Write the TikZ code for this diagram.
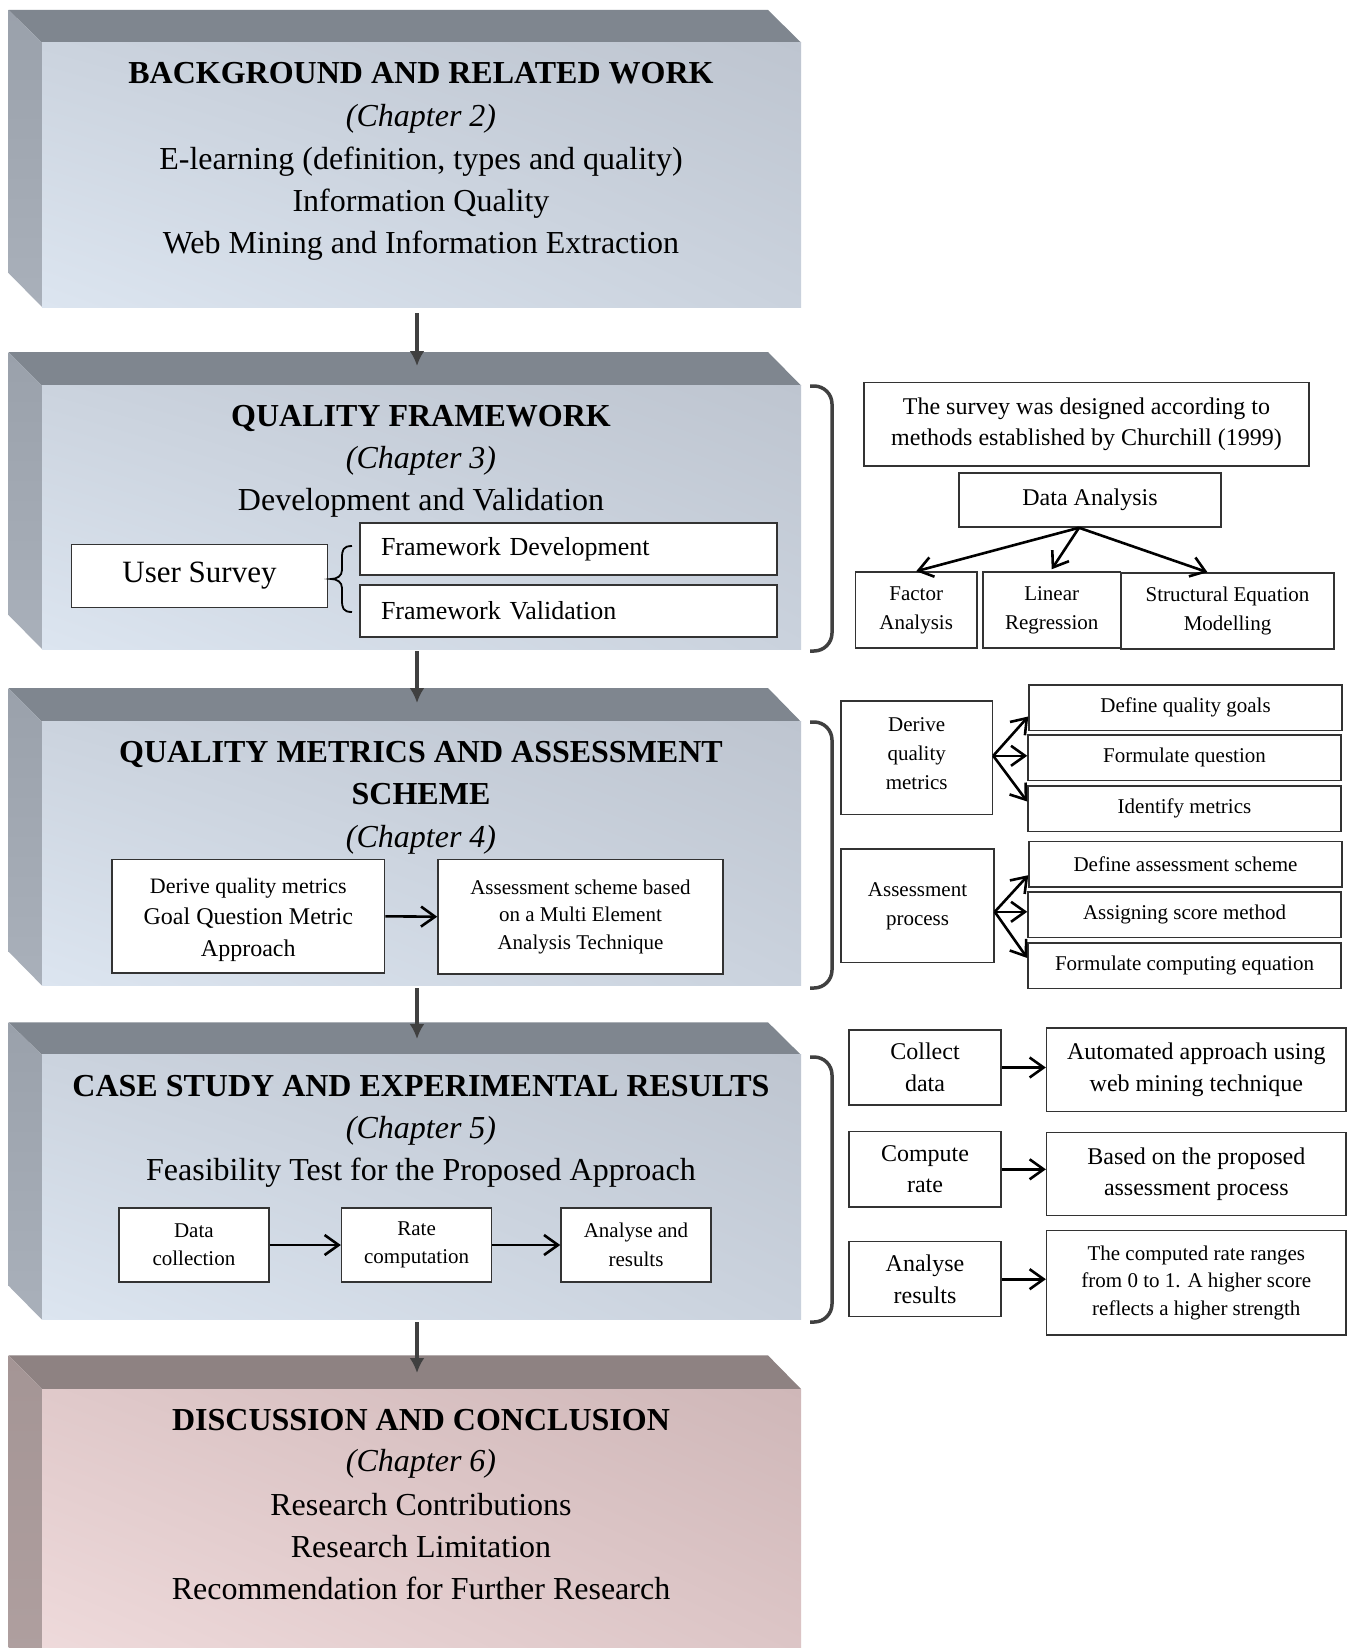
\documentclass[tikz,border=0pt]{standalone}
\usepackage{fontspec}
\setmainfont{Liberation Serif}
\usetikzlibrary{arrows.meta,calc,shadings}
\definecolor{btop}{HTML}{7F868F}
\definecolor{bsideA}{HTML}{9AA1AB}
\definecolor{bsideB}{HTML}{A9B0BA}
\definecolor{bfUL}{HTML}{CBD3DE}
\definecolor{bfUR}{HTML}{BEC5D0}
\definecolor{bfLL}{HTML}{DCE5F0}
\definecolor{bfLR}{HTML}{CAD2DD}
\definecolor{ptop}{HTML}{8E8282}
\definecolor{psideA}{HTML}{A49595}
\definecolor{psideB}{HTML}{B0A0A0}
\definecolor{pfUL}{HTML}{E0C9CA}
\definecolor{pfUR}{HTML}{CFB7B8}
\definecolor{pfLL}{HTML}{F0DCDD}
\definecolor{pfLR}{HTML}{DEC7C8}
\definecolor{arrgray}{HTML}{404040}
\newcommand\bevbox[4]{%
  \fill[#4top] (8.5,#1) -- (768,#1) -- (801,#2) -- (42,#2) -- cycle;
  \shade[top color=#4sideA, bottom color=#4sideB] (8.5,#1) -- (42,#2) -- (42,#3) -- (8.5,{#3-34}) -- cycle;
  \shade[upper left=#4fUL, upper right=#4fUR, lower left=#4fLL, lower right=#4fLR] (42,#2) rectangle (801,#3);
}
\begin{document}
\begin{tikzpicture}[x=1pt,y=-1pt,
  ttl/.style={font=\bfseries\fontsize{32}{38}\selectfont, anchor=base, inner sep=0pt},
  chp/.style={font=\itshape\fontsize{32}{38}\selectfont, anchor=base, inner sep=0pt},
  bdy/.style={font=\fontsize{32}{38}\selectfont, anchor=base, inner sep=0pt},
  box/.style={draw=black!80, line width=1.5pt, fill=white, inner sep=0pt, align=center},
  mainarrow/.style={draw=arrgray, line width=3.5pt, -{Latex[length=15pt,width=15pt]}},
  openarrow/.style={draw=black, line width=2.6pt, -{Straight Barb[length=14pt,width=20pt]}},
  bigbrace/.style={draw=arrgray, line width=3.5pt, rounded corners=18pt},
  f21/.style={font=\fontsize{21}{29}\selectfont},
  f24/.style={font=\fontsize{24}{31.6}\selectfont}]
\useasboundingbox (0,0) rectangle (1348,1648);
\clip (0,0) rectangle (1348,1648);
\fill[white] (0,0) rectangle (1348,1648);

% ---------- main boxes ----------
\bevbox{10}{42.5}{307}{b}
\bevbox{352}{385.5}{649}{b}
\bevbox{688}{721.8}{985.6}{b}
\bevbox{1022.3}{1054.9}{1319.7}{b}
\bevbox{1355.4}{1389}{1683}{p}

% box 1 text
\node[ttl] (t1a) at (421,83.5) {BACKGROUND AND RELATED WORK};
\node[chp] (t1b) at (421,127) {(Chapter 2)};
\node[bdy] (t1c) at (421,169.5) {E-learning (definition, types and quality)};
\node[bdy] (t1d) at (421,211.5) {Information Quality};
\node[bdy] (t1e) at (421,253.5) {Web Mining and Information Extraction};

% box 2 text
\node[ttl] (t2a) at (421,426) {QUALITY FRAMEWORK};
\node[chp] (t2b) at (421,468) {(Chapter 3)};
\node[bdy] (t2c) at (421,510) {Development and Validation};

% box 3 text
\node[ttl] (t3a) at (421,762) {QUALITY METRICS AND ASSESSMENT};
\node[ttl] (t3b) at (421,804) {SCHEME};
\node[chp] (t3c) at (421,847) {(Chapter 4)};

% box 4 text
\node[ttl] (t4a) at (421,1096) {CASE STUDY AND EXPERIMENTAL RESULTS};
\node[chp] (t4b) at (421,1138) {(Chapter 5)};
\node[bdy] (t4c) at (421,1180) {Feasibility Test for the Proposed Approach};

% box 5 text
\node[ttl] (t5a) at (421,1430) {DISCUSSION AND CONCLUSION};
\node[chp] (t5b) at (421,1471) {(Chapter 6)};
\node[bdy] (t5c) at (421,1515) {Research Contributions};
\node[bdy] (t5d) at (421,1557) {Research Limitation};
\node[bdy] (t5e) at (421,1599) {Recommendation for Further Research};

% main arrows
\coordinate (a1s) at (417,313);  \coordinate (a1e) at (417,366);
\coordinate (a2s) at (417,651);  \coordinate (a2e) at (417,703);
\coordinate (a3s) at (417,988);  \coordinate (a3e) at (417,1039);
\coordinate (a4s) at (417,1322); \coordinate (a4e) at (417,1373);
\draw[mainarrow] (a1s) -- (a1e);
\draw[mainarrow] (a2s) -- (a2e);
\draw[mainarrow] (a3s) -- (a3e);
\draw[mainarrow] (a4s) -- (a4e);

% ---------- inner boxes: quality framework ----------
\node[box, minimum width=256pt, minimum height=63pt, font=\fontsize{31}{36}\selectfont] (us) at (199.5,576) {User Survey};
\node[box, minimum height=52pt, text width=375pt, inner xsep=21pt, align=left, font=\fontsize{26}{30}\selectfont] (fd) at (568.5,549) {Framework Development};
\node[box, minimum height=52pt, text width=375pt, inner xsep=21pt, align=left, font=\fontsize{26}{30}\selectfont] (fv) at (568.5,611) {Framework Validation};
\draw[line width=1.8pt] (352,546) .. controls (343,546) and (342,550) .. (342,558) -- (342,570)
  .. controls (342,576) and (337,579) .. (331,579) .. controls (337,579) and (342,582) .. (342,588)
  -- (342,600) .. controls (342,608) and (343,612) .. (352,612);

% ---------- inner boxes: metrics ----------
\node[box, minimum width=272.6pt, minimum height=113.5pt, font=\fontsize{24}{31.5}\selectfont] (dq) at (248.3,916.3)
  {{\fontsize{22}{31.5}\selectfont\rule{0pt}{22pt}Derive quality metrics}\\Goal Question Metric\\Approach};
\node[box, minimum width=285pt, minimum height=114.5pt, font=\fontsize{21}{27.5}\selectfont] (as) at (580.5,916.7)
  {Assessment scheme based\\on a Multi Element\\Analysis Technique};
\draw[openarrow] (dq.east) -- (as.west);

% ---------- inner boxes: case study ----------
\node[box, minimum width=150pt, minimum height=74pt, font=\fontsize{21}{28.4}\selectfont] (dc) at (193.9,1245) {Data\\collection};
\node[box, minimum width=150pt, minimum height=74pt, font=\fontsize{21}{28.4}\selectfont] (rc) at (416.6,1245) {Rate\\computation};
\node[box, minimum width=150pt, minimum height=74pt, font=\fontsize{21}{28.4}\selectfont] (ar) at (636,1245) {Analyse and\\results};
\draw[openarrow] (dc.east) -- (rc.west);
\draw[openarrow] (rc.east) -- (ar.west);

% ---------- big braces ----------
\draw[bigbrace] (810,386) -- (832,386) -- (832,651) -- (810,651);
\draw[bigbrace] (810,722) -- (832,722) -- (832,988) -- (810,988);
\draw[bigbrace] (810,1057) -- (832,1057) -- (832,1322) -- (810,1322);

% ---------- right panel 2 ----------
\node[box, minimum width=445pt, minimum height=83.4pt, f24] (sv) at (1086.5,424.3)
  {The survey was designed according to\\methods established by Churchill (1999)};
\node[box, minimum width=262pt, minimum height=54pt, f24] (da) at (1090,500) {Data Analysis};
\node[box, minimum width=121.5pt, minimum height=76pt, f21] (fa) at (916.2,610) {Factor\\Analysis};
\node[box, minimum width=137.5pt, minimum height=76pt, f21] (lr) at (1051.7,610) {Linear\\Regression};
\node[box, minimum width=213pt, minimum height=76pt, f21] (sem) at (1227.5,611) {Structural Equation\\Modelling};
\coordinate (dao) at ($(da.south)+(-11,0)$);
\draw[openarrow] (dao) -- (fa.north);
\draw[openarrow] (dao) -- ($(lr.north)+(0,-2)$);
\draw[openarrow] (dao) -- ($(sem.north)+(-20,0)$);

% ---------- right panel 3 ----------
\node[box, minimum width=151.5pt, minimum height=113.7pt, f21] (dqm) at (916.7,757.8) {Derive\\quality\\metrics\rule[-8pt]{0pt}{1pt}};
\node[box, minimum width=313pt, minimum height=45.5pt, f21] (g1) at (1185.5,707.5) {Define quality goals};
\node[box, minimum width=313pt, minimum height=45.5pt, f21] (g2) at (1184.5,757.5) {Formulate question};
\node[box, minimum width=313pt, minimum height=45.5pt, f21] (g3) at (1184.5,808.5) {Identify metrics};
\node[box, minimum width=153pt, minimum height=113.7pt, f21] (ap) at (917.5,905.8) {Assessment\\process};
\node[box, minimum width=313pt, minimum height=45.5pt, f21] (g4) at (1185.5,864.2) {Define assessment scheme};
\node[box, minimum width=313pt, minimum height=45.5pt, f21] (g5) at (1184.5,914.8) {Assigning score method};
\node[box, minimum width=313pt, minimum height=45.5pt, f21] (g6) at (1184.5,965.5) {Formulate computing equation};
\coordinate (dqo) at ($(dqm.east)+(0,-2)$);
\draw[openarrow] (dqo) -- ($(g1.west)+(0,9)$);
\draw[openarrow] (dqo) -- (dqo -| g2.west);
\draw[openarrow] (dqo) -- ($(g3.west)+(0,-7)$);
\coordinate (apo) at ($(ap.east)+(0,6)$);
\draw[openarrow] (apo) -- ($(g4.west)+(0,11)$);
\draw[openarrow] (apo) -- (apo -| g5.west);
\draw[openarrow] (apo) -- ($(g6.west)+(0,-7.5)$);

% ---------- right panel 4 ----------
\node[box, minimum width=152pt, minimum height=75pt, f24] (cd) at (925,1067.5) {Collect\\data};
\node[box, minimum width=299.4pt, minimum height=83.7pt, f24] (aa) at (1196.3,1069.8) {Automated approach using\\web mining technique};
\node[box, minimum width=152pt, minimum height=75.3pt, f24] (cr) at (925,1169.3) {Compute\\rate};
\node[box, minimum width=299.4pt, minimum height=83pt, f24] (bp) at (1196.3,1174.2) {Based on the proposed\\assessment process};
\node[box, minimum width=152pt, minimum height=75pt, f24] (anr) at (925,1279.2) {Analyse\\results};
\node[box, minimum width=299.4pt, minimum height=104.3pt, font=\fontsize{21}{27.5}\selectfont] (crr) at (1196.3,1282.8)
  {The computed rate ranges\\from 0 to 1. A higher score\\reflects a higher strength};
\draw[openarrow] (cd.east) -- (cd.east -| aa.west);
\draw[openarrow] (cr.east) -- (cr.east -| bp.west);
\draw[openarrow] (anr.east) -- (anr.east -| crr.west);
\end{tikzpicture}
\end{document}
